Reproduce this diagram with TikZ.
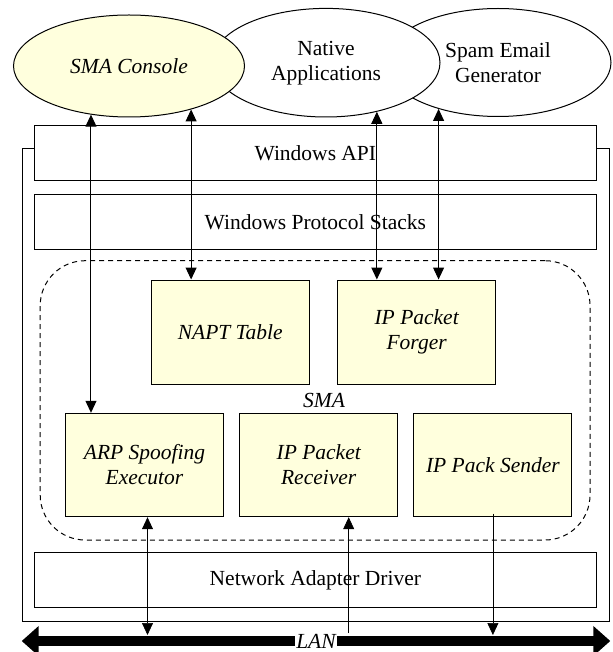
\documentclass[tikz,border=0pt]{standalone}
\usepackage{fontspec}
\setmainfont{Liberation Serif}
\usepackage{tikz}
\usetikzlibrary{calc}
\usetikzlibrary{shapes.geometric, arrows.meta, positioning}

\definecolor{smayellow}{RGB}{255,255,221}
\newcommand{\diagfont}{\fontsize{21.5}{25}\selectfont}

\tikzset{
    layer/.style={draw, line width=1pt, fill=white, minimum width=561.3pt, minimum height=55pt, inner sep=0pt},
    module/.style={draw, line width=1pt, fill=smayellow, minimum width=158pt, minimum height=104pt,
        align=center, inner sep=0pt, font=\diagfont\itshape},
    app/.style={ellipse, draw, line width=1pt, fill=white, align=center, inner sep=0pt},
    call/.style={{Triangle[length=12pt,width=11pt]}-{Triangle[length=12pt,width=11pt]}, line width=1pt},
    wire/.style={line width=0.7pt},
}

\begin{document}
\begin{tikzpicture}[x=1pt, y=-1pt, font=\diagfont]
\useasboundingbox (0,0) rectangle (612,652);

% Applications, drawn back to front
\node[app, minimum width=226pt, minimum height=108pt] (spam) at (498,62.5) {Spam Email\\Generator};
\node[app, minimum width=228pt, minimum height=108.6pt] (native) at (326,62.7) {Native\\Applications};
\node[app, fill=smayellow, font=\diagfont\itshape, minimum width=231pt, minimum height=102pt] (console) at (129,66) {SMA Console};

% Host frame (API layer hides its top edge)
\node[draw, line width=1pt, minimum width=586.7pt, minimum height=472.7pt] (host) at (315.65,385.35) {};

% Windows layers
\foreach \name/\y/\txt in {winapi/153/Windows API, stacks/221.85/Windows Protocol Stacks, nad/580/Network Adapter Driver}
{
    \node[layer] (\name) at (315.35,\y) {\txt};
}

% SMA, dashed
\node[draw, dash pattern=on 5pt off 4pt, line width=1pt, rounded corners=45pt,
    minimum width=549.8pt, minimum height=279.3pt] (sma) at (315.1,400.35) {};
\node[font=\diagfont\itshape] (smalabel) at (324,400) {SMA};

% SMA modules
\node[module] (napt) at (230.25,332) {NAPT Table};
\node[module, right=27.4pt of napt] (forger) {IP Packet\\Forger};
\node[module, minimum height=103.4pt] (arp) at (144.5,465) {ARP Spoofing\\Executor};
\node[module, minimum height=103.4pt, right=15.2pt of arp] (rcv) {IP Packet\\Receiver};
\node[module, minimum height=103.4pt, right=15.2pt of rcv] (sender) {IP Pack Sender};

% LAN
\coordinate (lanL) at (21.7,641);
\coordinate (lanR) at (610.3,641);
\coordinate (lantop) at (0,635);
\draw[line width=10.5pt, {Triangle[length=17pt,width=29pt]}-{Triangle[length=17pt,width=29pt]}] (lanL) -- (lanR);
\node[fill=white, inner sep=1pt, font=\diagfont\itshape] (lan) at (316,641.5) {LAN};

% Calls between applications and SMA
\draw[call] (console.232) -- (console.232 |- arp.north);
\draw[call] (console.325) -- (console.325 |- napt.north);
\draw[call] (native.316) -- (native.316 |- forger.north);
\draw[call] (spam.218) -- (spam.218 |- forger.north);

% Packets to and from the LAN
\coordinate (arpport) at ($(arp.south)+(3,0)$);
\coordinate (rcvport) at ($(rcv.south)+(30,0)$);
\draw[call, wire] (arpport) -- (arpport |- lantop);
\draw[wire, -{Triangle[length=12pt,width=11pt]}] (rcvport |- 0,633) -- (rcvport);
\draw[wire, -{Triangle[length=12pt,width=11pt]}] ([yshift=3.5pt]sender.south) -- (sender.south |- lantop);

\end{tikzpicture}
\end{document}
